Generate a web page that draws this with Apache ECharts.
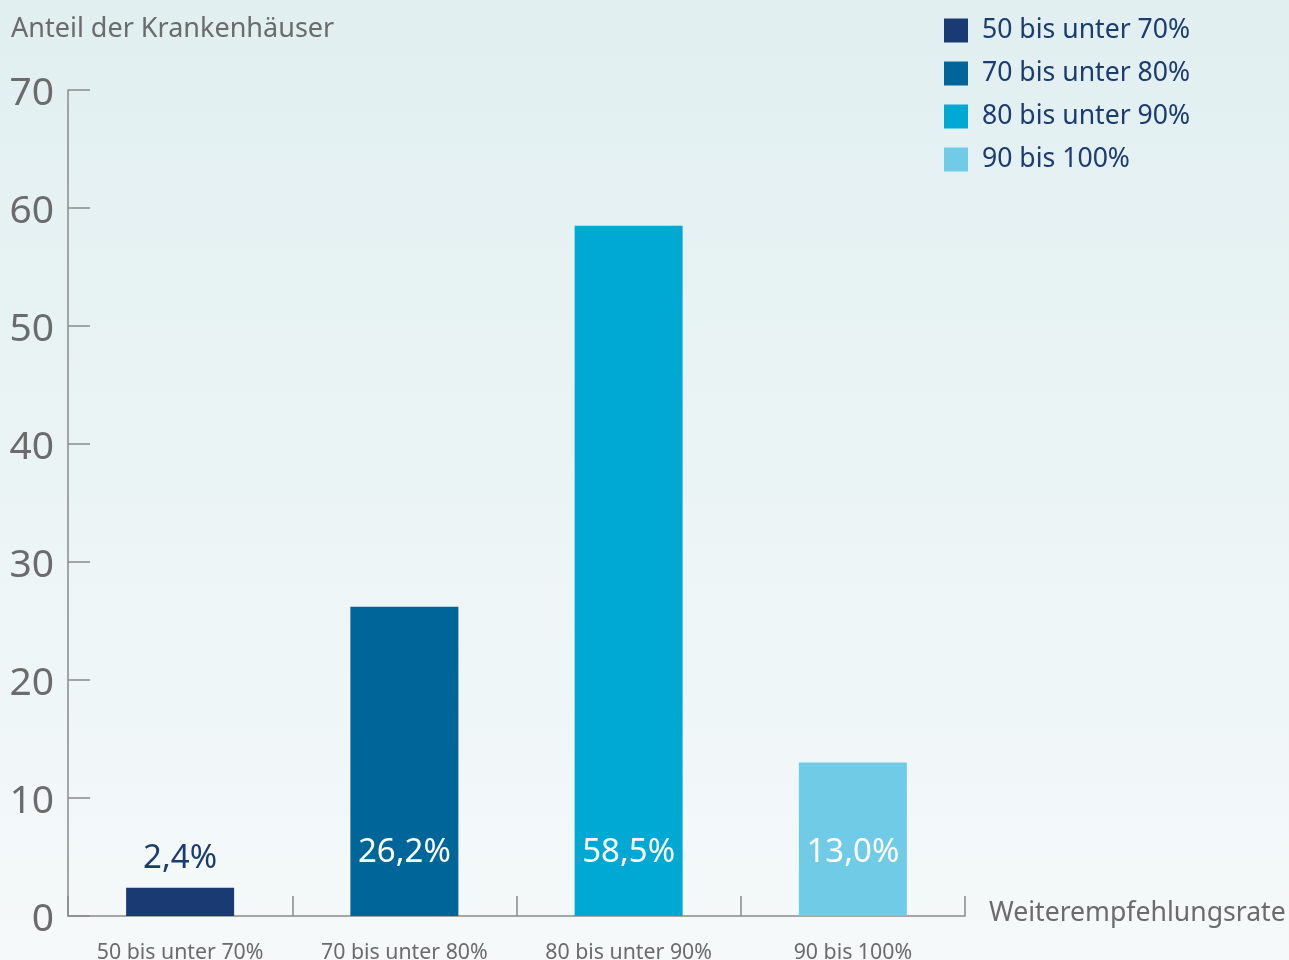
<!DOCTYPE html>
<html><head><meta charset="utf-8">
<script src="https://cdn.jsdelivr.net/npm/echarts@6/dist/echarts.min.js"></script>
<style>html,body{margin:0;padding:0;}#c{width:1289px;height:960px;}</style>
</head><body><div id="c"></div>
<script>
const categories = ['50 bis unter 70%', '70 bis unter 80%', '80 bis unter 90%', '90 bis 100%'];
const values = [2.4, 26.2, 58.5, 13.0];
const barColors = ['#1a3a73', '#00669a', '#00a9d4', '#70cbe6'];
const yTicks = [0, 10, 20, 30, 40, 50, 60, 70];
const FONT = 'Noto Sans';
const GRAY = '#6b6b6b';

const series = categories.map((name, i) => ({
  name: name,
  type: 'bar',
  stack: 'all',
  barWidth: 108,
  itemStyle: { color: barColors[i] },
  data: categories.map((c, j) => j === i ? values[i] : '-'),
  label: {
    show: true,
    position: i === 0 ? 'top' : 'insideBottom',
    distance: i === 0 ? 13 : 47,
    color: i === 0 ? '#1b3c6f' : '#ffffff',
    fontFamily: FONT,
    fontSize: 33,
    formatter: p => p.value.toFixed(1).replace('.', ',') + '%'
  }
}));

const chart = echarts.init(document.getElementById('c'));
chart.setOption({
  animation: false,
  backgroundColor: new echarts.graphic.LinearGradient(0, 0, 0, 1, [
    { offset: 0, color: '#e1eff0' },
    { offset: 1, color: '#f5f9fa' }
  ]),
  title: {
    text: 'Anteil der Krankenhäuser',
    left: 6, top: 11,
    textStyle: { fontFamily: FONT, fontSize: 27, fontWeight: 'normal', color: GRAY }
  },
  legend: {
    orient: 'vertical',
    left: 939, top: 12,
    icon: 'rect',
    itemWidth: 24, itemHeight: 24, itemGap: 16,
    data: categories,
    textStyle: { fontFamily: FONT, fontSize: 26.6, color: '#1b3c6f', padding: [0, 0, 0, 9] }
  },
  grid: { left: 68, right: 324, top: 90, bottom: 44, containLabel: false, outerBoundsMode: 'none' },
  xAxis: {
    type: 'category',
    data: categories,
    name: 'Weiterempfehlungsrate',
    nameLocation: 'end',
    nameGap: 24,
    nameTextStyle: { fontFamily: FONT, fontSize: 26.6, color: GRAY, verticalAlign: 'bottom', lineHeight: 6 },
    axisLine: { show: true, lineStyle: { color: '#8a8a8a', width: 1.5 } },
    axisTick: { show: true, inside: true, length: 20, alignWithLabel: false, lineStyle: { color: '#8a8a8a', width: 1.5 } },
    axisLabel: { fontFamily: FONT, fontSize: 21.3, color: GRAY, margin: 26 }
  },
  yAxis: {
    type: 'value',
    min: 0, max: 70, interval: 10,
    axisLine: { show: true, lineStyle: { color: '#8a8a8a', width: 1.5 } },
    axisTick: { show: true, inside: true, length: 22, lineStyle: { color: '#8a8a8a', width: 1.5 } },
    splitLine: { show: false },
    axisLabel: {
      fontFamily: FONT, fontSize: 39, color: GRAY, margin: 14,
      verticalAlign: 'top', lineHeight: 8,
      formatter: v => yTicks.includes(v) ? String(v) : ''
    }
  },
  series: series
});
</script></body></html>
